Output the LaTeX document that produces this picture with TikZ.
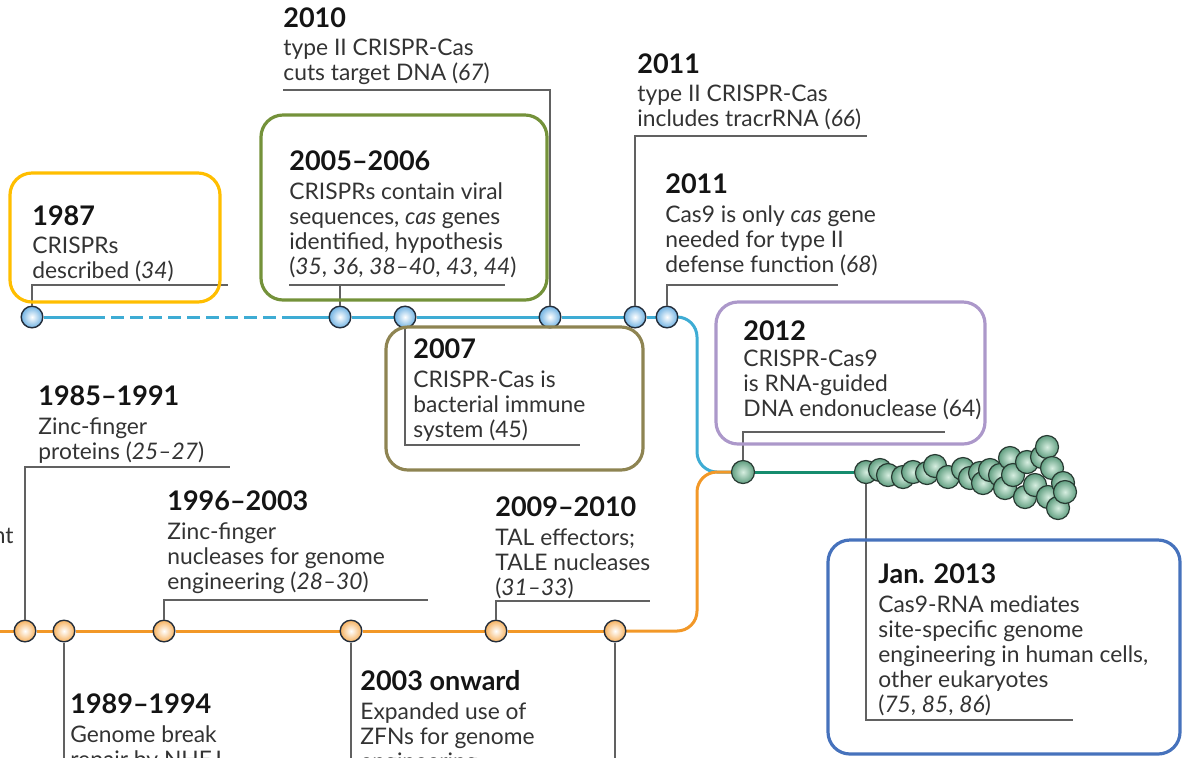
\documentclass[tikz,border=0pt]{standalone}
\usepackage{fontspec}
\setmainfont{Lato}
\usetikzlibrary{positioning,backgrounds}
\definecolor{lineblue}{RGB}{62,172,212}
\definecolor{lineorange}{RGB}{242,152,40}
\definecolor{lineteal}{RGB}{22,140,110}
\definecolor{dotblue}{RGB}{112,178,226}
\definecolor{dotorange}{RGB}{246,178,96}
\definecolor{dotline}{RGB}{35,45,58}
\definecolor{beadin}{RGB}{214,238,224}
\definecolor{beadout}{RGB}{96,158,128}
\definecolor{beadline}{RGB}{40,58,50}
\definecolor{boxyellow}{RGB}{255,190,0}
\definecolor{boxgreen}{RGB}{116,146,58}
\definecolor{boxolive}{RGB}{142,132,82}
\definecolor{boxpurple}{RGB}{172,152,202}
\definecolor{boxblue}{RGB}{70,114,188}
\tikzset{
  yr/.style={font=\fontsize{13.5}{15}\selectfont\bfseries, text=black!92,
             inner sep=0pt, anchor=base west},
  txt/.style={font=\fontsize{11.4}{12.5}\selectfont, text=black!80, align=left,
              inner sep=0pt, anchor=north west},
  leader/.style={draw=black!62, line width=0.75pt},
  hlbox/.style={line width=1.6pt, rounded corners=11pt},
}

\begin{document}
\begin{tikzpicture}[x=0.5pt,y=-0.5pt,
  dotb/.style={circle, draw=dotline, line width=0.7pt, inner sep=0pt,
               minimum size=10.8pt, inner color=white, outer color=dotblue},
  doto/.style={circle, draw=dotline, line width=0.7pt, inner sep=0pt,
               minimum size=10.8pt, inner color=white, outer color=dotorange},
  bead/.style={circle, draw=beadline, line width=0.6pt, inner sep=0pt,
               minimum size=11.5pt, inner color=beadin, outer color=beadout},
  tl/.style={line width=1.5pt},
]
\useasboundingbox (0,0) rectangle (1182,757);

% ===================== TIMELINE DOTS =====================
\foreach \x/\n in {32/c87,340/c05,405/c07,550/c10,635/c11a,667/c11b}
  \node[dotb] (\n) at (\x,317) {};
\foreach \x/\n in {-12/co0,25/c85,64/c89,164/c96,351/c03,496/c09,615/co6}
  \node[doto] (\n) at (\x,631) {};
\node[bead] (c12) at (743,472) {};
\node[bead] (s1) at (866,472) {};
\foreach \x/\y in {880/470,888/475,903/477,913/472,927/473,935/466,948/477,
                   963/469,970/478,980/473,983/483,990/470,1000/475,1005/488,
                   1010/458,1013/475,1027/462,1025/497,1035/485,1042/457,
                   1047/447,1052/468,1048/497,1058/508,1063/483,1065/492}
  \node[bead] at (\x,\y) {};

% ===================== THE THREE LINES =====================
\coordinate (mrg) at (697,472);
\coordinate (dsA) at (92,317);
\coordinate (dsB) at (283,317);
\begin{scope}[on background layer]
  \draw[tl, lineblue] (c87) -- (dsA);
  \draw[tl, lineblue, dash pattern=on 6.5pt off 3pt] (dsA) -- (dsB);
  \draw[tl, lineblue] (dsB) -- (c05) -- (c07) -- (c10) -- (c11a) -- (c11b);
  \draw[tl, lineblue, rounded corners=10pt] (c11b.center) -- (c11b -| mrg) -- (mrg) -- (c12.center);
  \draw[tl, lineorange] (co0) -- (c85) -- (c89) -- (c96) -- (c03) -- (c09) -- (co6);
  \draw[tl, lineorange, rounded corners=10pt] (co6.center) -- (co6 -| mrg) -- (mrg) -- (c12.center);
  \draw[tl, lineteal] (c12) -- (s1);
\end{scope}

% ===================== CRISPR EVENTS (top line) =====================
\node[yr] (t87) at (32,225) {1987};
\node[txt] (b87) at ([yshift=-6pt]t87.base west) {CRISPRs\\described (\textit{34})};
\coordinate (l87) at (228,285);
\draw[leader] (c87.north) |- (l87);

\node[yr] (t05) at (289,170) {2005--2006};
\node[txt] (b05) at ([yshift=-6pt]t05.base west)
  {CRISPRs contain viral\\sequences, \textit{cas} genes\\identified, hypothesis\\
   (\textit{35}, \textit{36}, \textit{38--40}, \textit{43}, \textit{44})};
\coordinate (l05a) at (289,285);
\coordinate (l05b) at (505,285);
\draw[leader] (l05a) -- (l05b);
\draw[leader] (c05.north) -- (c05 |- l05b);

\node[yr] (t10) at (283,27) {2010};
\node[txt] (b10) at ([yshift=-6pt]t10.base west) {type II CRISPR-Cas\\cuts target DNA (\textit{67})};
\coordinate (l10) at (283,90);
\draw[leader] (c10.north) |- (l10);

\node[yr] (t11a) at (637,73) {2011};
\node[txt] (b11a) at ([yshift=-6pt]t11a.base west) {type II CRISPR-Cas\\includes tracrRNA (\textit{66})};
\coordinate (l11a) at (867,136);
\draw[leader] (c11a.north) |- (l11a);

\node[yr] (t11b) at (665,193) {2011};
\node[txt] (b11b) at ([yshift=-6pt]t11b.base west)
  {Cas9 is only \textit{cas} gene\\needed for type II\\defense function (\textit{68})};
\coordinate (l11b) at (838,285);
\draw[leader] (c11b.north) |- (l11b);

\node[yr] (t07) at (413,358) {2007};
\node[txt] (b07) at ([yshift=-6pt]t07.base west) {CRISPR-Cas is\\bacterial immune\\system (45)};
\coordinate (l07) at (580,445);
\draw[leader] (c07.south) |- (l07);

\node[yr] (t12) at (743,340) {2012};
\node[txt] (b12) at ([yshift=-5pt]t12.base west) {CRISPR-Cas9\\is RNA-guided\\DNA endonuclease (64)};
\coordinate (l12) at (945,432);
\draw[leader] (c12.north) |- (l12);

\node[yr] (t13) at (878,583) {Jan. 2013};
\node[txt] (b13) at ([yshift=-6pt]t13.base west)
  {Cas9-RNA mediates\\site-specific genome\\engineering in human cells,\\other eukaryotes\\
   (\textit{75}, \textit{85}, \textit{86})};
\coordinate (l13) at (1073,720);
\draw[leader] (s1.south) |- (l13);

% ===================== GENOME ENGINEERING (bottom line) =====================
\node[txt, anchor=base east] (tcut) at (14,543) {nt};

\node[yr] (t85) at (38,405) {1985--1991};
\node[txt] (b85) at ([yshift=-6pt]t85.base west) {Zinc-finger\\proteins (\textit{25--27})};
\coordinate (l85) at (230,467);
\draw[leader] (c85.north) |- (l85);

\node[yr] (t96) at (167,510) {1996--2003};
\node[txt] (b96) at ([yshift=-6pt]t96.base west)
  {Zinc-finger\\nucleases for genome\\engineering (\textit{28--30})};
\coordinate (l96) at (428,600);
\draw[leader] (c96.north) |- (l96);

\node[yr] (t09) at (495,516) {2009--2010};
\node[txt] (b09) at ([yshift=-6pt]t09.base west) {TAL effectors;\\TALE nucleases\\(\textit{31--33})};
\coordinate (l09) at (650,601);
\draw[leader] (c09.north) |- (l09);

\coordinate (bot) at (0,775);
\node[yr] (t89) at (70,713) {1989--1994};
\node[txt] (b89) at ([yshift=-6pt]t89.base west) {Genome break\\repair by NHEJ};
\draw[leader] (c89.south) -- (c89 |- bot);

\node[yr] (t03) at (360,690) {2003 onward};
\node[txt] (b03) at ([yshift=-6pt]t03.base west) {Expanded use of\\ZFNs for genome\\engineering};
\draw[leader] (c03.south) -- (c03 |- bot);
\draw[leader] (co6.south) -- (co6 |- bot);

% ===================== HIGHLIGHT FRAMES =====================
\draw[hlbox, draw=boxyellow] (10,173) rectangle (220,302);
\draw[hlbox, draw=boxgreen] (261,115) rectangle (547,300);
\draw[hlbox, draw=boxolive] (386,327) rectangle (643,470);
\draw[hlbox, draw=boxpurple] (716,302) rectangle (985,444);
\draw[hlbox, draw=boxblue] (828,540) rectangle (1180,754);

\end{tikzpicture}
\end{document}
